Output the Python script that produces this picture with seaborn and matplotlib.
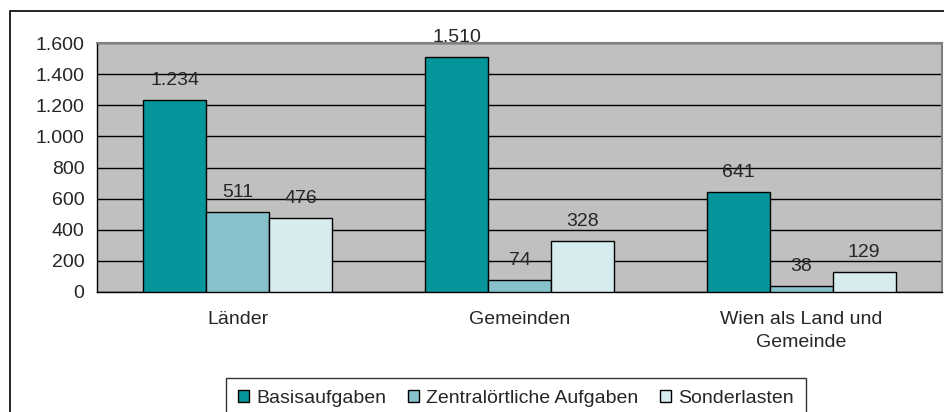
import matplotlib
matplotlib.use("Agg")
import matplotlib.pyplot as plt
import seaborn as sns
import pandas as pd
from matplotlib.patches import Rectangle

categories = ["Länder", "Gemeinden", "Wien als Land und\nGemeinde"]
series = ["Basisaufgaben", "Zentralörtliche Aufgaben", "Sonderlasten"]
basis = [1234, 1510, 641]
zentral = [511, 74, 38]
sonder = [476, 328, 129]
yticks = [0, 200, 400, 600, 800, 1000, 1200, 1400, 1600]
colors = ["#05959A", "#87C2CC", "#D6ECEF"]

rows = []
for s, vals in zip(series, [basis, zentral, sonder]):
    for c, v in zip(categories, vals):
        rows.append({"Kategorie": c, "Serie": s, "Wert": v})
df = pd.DataFrame(rows)

sns.set_style("white")
plt.rcParams["font.family"] = ["Liberation Sans", "DejaVu Sans"]
FS = 14

fig = plt.figure(figsize=(9.45, 4.12), dpi=100)
ax = fig.add_axes([97/945, 120/412, (942-97)/945, (292-43)/412])

sns.barplot(data=df, x="Kategorie", y="Wert", hue="Serie", order=categories,
            hue_order=series, palette=colors, width=0.67, gap=0,
            edgecolor="black", linewidth=1.0, saturation=1, ax=ax, zorder=3,
            legend=True)

ax.set_facecolor("#C0C0C0")
ax.set_ylim(0, 1600)
ax.set_xlim(-0.5, 2.5)
ax.set_yticks(yticks)
ax.set_yticklabels([f"{v:,}".replace(",", ".") for v in yticks], fontsize=FS)
ax.yaxis.grid(True, color="black", linewidth=1.0, zorder=1)
ax.set_axisbelow(True)
ax.set_xticks([-0.5, 0.5, 1.5, 2.5], minor=False)
ax.set_xticklabels([])
ax.set_xticks([0, 1, 2], minor=True)
ax.set_xticklabels(categories, minor=True, fontsize=FS, linespacing=1.45)
ax.tick_params(axis="x", which="minor", length=0, pad=14)
ax.tick_params(axis="x", which="major", length=5, width=1, color="black", direction="out")
ax.tick_params(axis="y", length=5, width=1, color="black", direction="out", pad=4)
ax.set_xlabel("")
ax.set_ylabel("")
for side in ["top", "right"]:
    ax.spines[side].set_color("#808080")
    ax.spines[side].set_linewidth(1.5)
for side in ["left", "bottom"]:
    ax.spines[side].set_color("black")
    ax.spines[side].set_linewidth(1.0)

for cont in ax.containers:
    ax.bar_label(cont, labels=[f"{int(v):,}".replace(",", ".") for v in cont.datavalues],
                 padding=8, fontsize=FS)

h, l = ax.get_legend_handles_labels()
ax.get_legend().remove()
leg = fig.legend(h, l, loc="upper center", bbox_to_anchor=(516/945, 34/412), ncol=3,
                 frameon=True, fancybox=False, edgecolor="black", fontsize=FS,
                 handlelength=0.55, handleheight=0.55, handletextpad=0.4,
                 columnspacing=1.1, borderpad=0.6, borderaxespad=0)
leg.get_frame().set_linewidth(1.0)

fig.patches.append(Rectangle((10/945, -0.2), 1.2, (412-11)/412 + 0.2,
                             transform=fig.transFigure, fill=False,
                             edgecolor="black", linewidth=1.2, zorder=0))

fig.savefig("out.png", dpi=100)
